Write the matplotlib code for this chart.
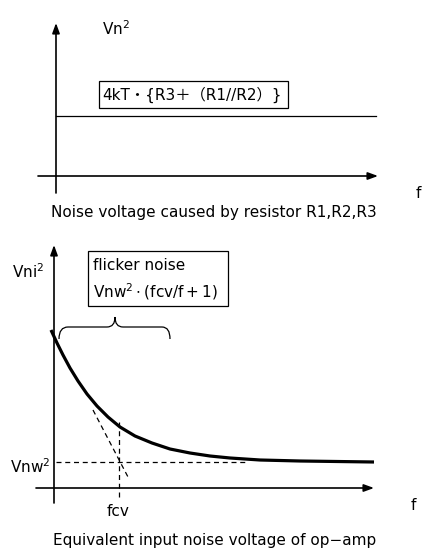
import numpy as np
import matplotlib
matplotlib.use('Agg')
import matplotlib.pyplot as plt
from matplotlib.path import Path
from matplotlib.patches import PathPatch, Rectangle

plt.rcParams['font.family'] = ['DejaVu Sans', 'Noto Sans CJK JP']
plt.rcParams['mathtext.fontset'] = 'dejavusans'

# thermal noise of the resistors (flat level)
r_level = 60
r_span = [0, 320]

# op-amp input noise: 1/f region merging into the white level
f_pts = [-3, 3, 9, 16, 24, 33, 43, 54, 66, 81, 98, 116, 136, 156, 176, 206, 246, 320]
vni_pts = [158, 145, 133, 120, 107, 94, 82, 71, 61, 52, 45, 39, 35, 32, 30, 28, 27, 26]
vnw_level = 26
fcv = 65
tangent_f = [39, 74]
tangent_v = [78, 11]

FS = 11
lw_axis = 1.2


def axis_arrows(ax, x0, x1, y0, y1):
    style = '-|>,head_length=0.6,head_width=0.22'
    ax.annotate('', xy=(x1, 0), xytext=(x0, 0),
                arrowprops=dict(arrowstyle=style, lw=lw_axis, color='black',
                                shrinkA=0, shrinkB=0))
    ax.annotate('', xy=(0, y1), xytext=(0, y0),
                arrowprops=dict(arrowstyle=style, lw=lw_axis, color='black',
                                shrinkA=0, shrinkB=0))


fig = plt.figure(figsize=(4.22, 5.5), dpi=100)

# --- top: resistor noise ---
ax1 = fig.add_axes([0, 320 / 550, 1, 230 / 550])
ax1.set_xlim(-56, 366)
ax1.set_ylim(-54, 176)
ax1.axis('off')
axis_arrows(ax1, -18, 322, -17, 153)
ax1.plot(r_span, [r_level, r_level], color='black', lw=0.9)
ax1.add_patch(Rectangle((43, 68), 189, 27, fill=False, lw=0.9, ec='black'))
ax1.text(46, 81.5, '4kT・{R3＋（R1//R2）}', fontsize=FS, va='center', ha='left')
ax1.text(46, 147, r'$\mathregular{Vn^{2}}$', fontsize=FS, va='center', ha='left')
ax1.text(362, -17, 'f', fontsize=FS, va='center', ha='center')
ax1.text(158, -36, 'Noise voltage caused by resistor R1,R2,R3',
         fontsize=FS, va='center', ha='center')

# --- bottom: op-amp equivalent input noise ---
ax2 = fig.add_axes([0, 0, 1, 320 / 550])
ax2.set_xlim(-54, 368)
ax2.set_ylim(-62, 258)
ax2.axis('off')
axis_arrows(ax2, -18, 320, -15, 243)

ax2.plot(f_pts, vni_pts, color='black', lw=2.3, solid_capstyle='butt',
         solid_joinstyle='round')
dash = dict(color='black', lw=0.9, linestyle=(0, (4, 3)))
ax2.plot([2, 194], [vnw_level, vnw_level], **dash)
ax2.plot([fcv, fcv], [-9, 66], **dash)
ax2.plot(tangent_f, tangent_v, **dash)

# brace over the flicker region
verts = [(5, 149), (5, 161), (14, 161), (53, 161), (61, 161), (61, 171),
         (61, 161), (69, 161), (108, 161), (116, 161), (116, 149)]
codes = [Path.MOVETO, Path.CURVE3, Path.CURVE3, Path.LINETO, Path.CURVE3, Path.CURVE3,
         Path.CURVE3, Path.CURVE3, Path.LINETO, Path.CURVE3, Path.CURVE3]
ax2.add_patch(PathPatch(Path(verts, codes), fill=False, lw=0.9, ec='black'))

ax2.add_patch(Rectangle((34, 182), 140, 55, fill=False, lw=0.9, ec='black'))
ax2.text(39, 223, 'flicker noise', fontsize=FS, va='center', ha='left')
ax2.text(39, 196, r'$\mathregular{Vnw^{2}\cdot(fcv/f+1)}$', fontsize=FS,
         va='center', ha='left')

ax2.text(-42, 216, r'$\mathregular{Vni^{2}}$', fontsize=FS, va='center', ha='left')
ax2.text(-44, 21, r'$\mathregular{Vnw^{2}}$', fontsize=FS, va='center', ha='left')
ax2.text(64, -24, 'fcv', fontsize=FS, va='center', ha='center')
ax2.text(359, -17, 'f', fontsize=FS, va='center', ha='center')
ax2.text(161, -52, 'Equivalent input noise voltage of op−amp',
         fontsize=FS, va='center', ha='center')

fig.savefig('out.png', dpi=100)
